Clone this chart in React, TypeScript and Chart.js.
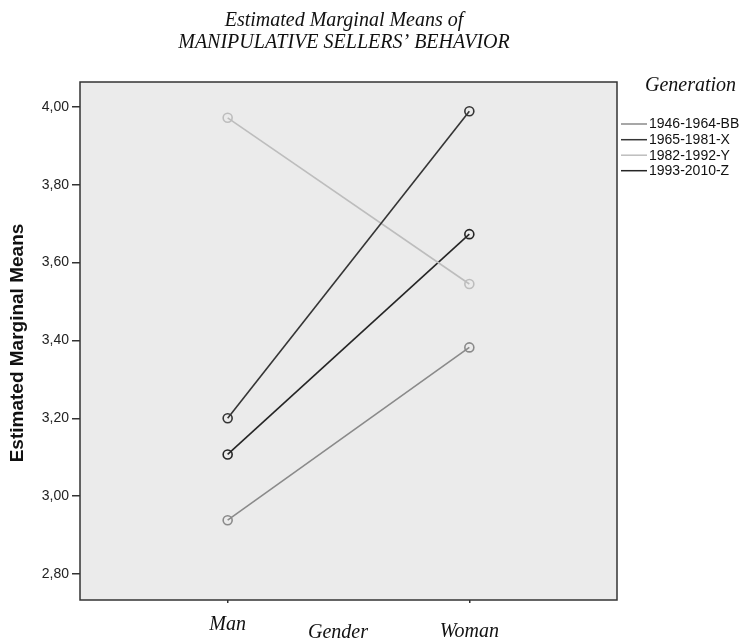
import React, { useEffect, useRef } from 'react';
import { Chart, registerables } from 'chart.js';

Chart.register(...registerables);

// ---- data ----
const categories = ['Man', 'Woman'];
const seriesLabels = ['1946-1964-BB', '1965-1981-X', '1982-1992-Y', '1993-2010-Z'];
const bbValues = [2.938, 3.382];
const xGenValues = [3.2, 3.989];
const yGenValues = [3.972, 3.545];
const zGenValues = [3.107, 3.673];
const yTickValues = [2.8, 3.0, 3.2, 3.4, 3.6, 3.8, 4.0];
const titleLines = ['Estimated Marginal Means of', 'MANIPULATIVE SELLERS\u2019 BEHAVIOR'];
const xAxisTitle = 'Gender';
const yAxisTitle = 'Estimated Marginal Means';
const legendTitle = 'Generation';

const seriesValues = [bbValues, xGenValues, yGenValues, zGenValues];
const seriesColors = ['#8a8a8a', '#353535', '#bdbdbd', '#252525'];

const SERIF = '"Liberation Serif", "DejaVu Serif", serif';
const SANS = '"Liberation Sans", Arial, sans-serif';

const decorPlugin = {
  id: 'decor',
  beforeDraw(chart: any) {
    const { ctx, chartArea: a } = chart;
    ctx.save();
    ctx.fillStyle = '#ffffff';
    ctx.fillRect(0, 0, chart.width, chart.height);
    ctx.fillStyle = '#ebebeb';
    ctx.fillRect(a.left, a.top, a.right - a.left, a.bottom - a.top);
    ctx.restore();
  },
  afterDraw(chart: any) {
    const { ctx, chartArea: a } = chart;
    ctx.save();
    // plot border
    ctx.strokeStyle = '#333333';
    ctx.lineWidth = 1.5;
    ctx.strokeRect(a.left, a.top, a.right - a.left, a.bottom - a.top);

    // title
    ctx.fillStyle = '#111111';
    ctx.textAlign = 'center';
    ctx.textBaseline = 'alphabetic';
    ctx.font = `italic 20px ${SERIF}`;
    ctx.fillText(titleLines[0], 344, 26);
    ctx.fillText(titleLines[1], 344, 48);

    // x category labels
    const xs = chart.scales.x;
    const labelBase = [630, 637];
    categories.forEach((c, i) => {
      ctx.fillText(c, xs.getPixelForValue(i + 1), labelBase[i]);
    });
    ctx.fillText(xAxisTitle, 338, 638);

    // legend
    ctx.textAlign = 'left';
    ctx.fillText(legendTitle, 645, 91);
    ctx.font = `14px ${SANS}`;
    ctx.textBaseline = 'middle';
    const rowY = [124, 139.7, 155.2, 170.7];
    chart.data.datasets.forEach((ds: any, i: number) => {
      ctx.strokeStyle = ds.borderColor;
      ctx.lineWidth = 1.5;
      ctx.beginPath();
      ctx.moveTo(621, rowY[i]);
      ctx.lineTo(647, rowY[i]);
      ctx.stroke();
      ctx.fillStyle = '#111111';
      ctx.fillText(ds.label, 649, rowY[i] + 0.5);
    });

    // y axis title
    ctx.translate(18, 343);
    ctx.rotate(-Math.PI / 2);
    ctx.textAlign = 'center';
    ctx.textBaseline = 'middle';
    ctx.font = `bold 19px ${SANS}`;
    ctx.fillStyle = '#111111';
    ctx.fillText(yAxisTitle, 0, 0);
    ctx.restore();
  },
};

export default function App() {
  const ref = useRef<HTMLCanvasElement | null>(null);
  useEffect(() => {
    document.body.style.margin = '0';
    const canvas = ref.current;
    if (!canvas) return;
    const chart = new Chart(canvas, {
      type: 'line',
      data: {
        datasets: seriesLabels.map((label, s) => ({
          label,
          data: categories.map((_, i) => ({ x: i + 1, y: seriesValues[s][i] })),
          borderColor: seriesColors[s],
          backgroundColor: seriesColors[s],
          borderWidth: 1.6,
          pointRadius: 4.5,
          pointBorderWidth: 1.6,
          pointBackgroundColor: 'rgba(0,0,0,0)',
          pointBorderColor: seriesColors[s],
          tension: 0,
          fill: false,
        })),
      },
      options: {
        responsive: false,
        animation: false,
        devicePixelRatio: 1,
        layout: { padding: { top: 82, right: 125, bottom: 0, left: 0 } },
        plugins: {
          legend: { display: false },
          tooltip: { enabled: false },
          title: { display: false },
        },
        scales: {
          x: {
            type: 'linear',
            min: 0.389,
            max: 2.611,
            afterBuildTicks: (s: any) => {
              s.ticks = categories.map((_, i) => ({ value: i + 1 }));
            },
            afterFit: (s: any) => {
              s.height = 40;
            },
            ticks: { display: false },
            grid: { drawOnChartArea: false, drawTicks: true, tickLength: 3, color: '#333333', lineWidth: 1.5 },
            border: { display: false },
          },
          y: {
            type: 'linear',
            min: 2.733,
            max: 4.064,
            afterBuildTicks: (s: any) => {
              s.ticks = yTickValues.map((v) => ({ value: v }));
            },
            afterFit: (s: any) => {
              s.width = 80;
            },
            ticks: {
              padding: 3,
              color: '#222222',
              font: { family: SANS, size: 14 },
              callback: (v: any) => Number(v).toFixed(2).replace('.', ','),
            },
            grid: { drawOnChartArea: false, drawTicks: true, tickLength: 8, color: '#333333', lineWidth: 1.5 },
            border: { display: false },
          },
        },
      },
      plugins: [decorPlugin],
    });
    return () => chart.destroy();
  }, []);
  return <canvas ref={ref} width={742} height={640} style={{ display: 'block' }} />;
}
